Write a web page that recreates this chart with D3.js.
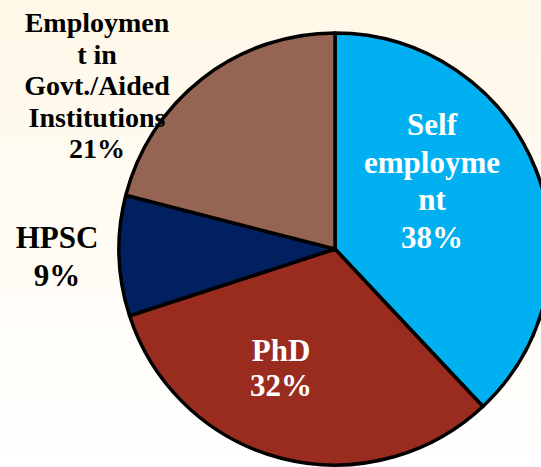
<!DOCTYPE html>
<html>
<head>
<meta charset="utf-8">
<script src="https://cdn.jsdelivr.net/npm/d3@7"></script>
<style>
  html, body { margin: 0; padding: 0; }
  svg { display: block; }
</style>
</head>
<body>
<svg id="chart" width="541" height="467"></svg>
<script>
// data
let categories = ["Self employment", "PhD", "HPSC", "Employment in Govt./Aided Institutions"];
let values = [38, 32, 9, 21];
let labelLines = [
	["Self", "employme", "nt", "38%"],
	["PhD", "32%"],
	["HPSC", "9%"],
	["Employmen", "t in", "Govt./Aided", "Institutions", "21%"]
];
let colors = ["#00B0F0", "#9A2C1F", "#002060", "#956452"];
let textColors = ["#ffffff", "#ffffff", "#000000", "#000000"];

let W = 541, H = 467;
let cx = 335, cy = 249, r = 216;

// label placement (x, first baseline, line step, font size)
let labelPlace = [
	{ x: 432, y: 135, step: 37.5, size: 31 },
	{ x: 281, y: 361, step: 35, size: 31 },
	{ x: 57, y: 248, step: 38, size: 31 },
	{ x: 97, y: 32, step: 31.5, size: 28 }
];

let svg = d3.select("#chart");

let defs = svg.append("defs");
let grad = defs.append("linearGradient")
	.attr("id", "bg")
	.attr("x1", 0).attr("y1", 0)
	.attr("x2", 0).attr("y2", 1);
grad.append("stop").attr("offset", "0%").attr("stop-color", "#FFF8E8");
grad.append("stop").attr("offset", "100%").attr("stop-color", "#FFFFFF");

svg.append("rect")
	.attr("width", W)
	.attr("height", H)
	.attr("fill", "url(#bg)");

let pie = d3.pie().sort(null).value(d => d);
let arc = d3.arc().innerRadius(0).outerRadius(r);

let g = svg.append("g").attr("transform", "translate(" + cx + "," + cy + ")");

g.selectAll("path")
	.data(pie(values))
	.enter().append("path")
	.attr("d", arc)
	.attr("fill", (d, i) => colors[i])
	.attr("stroke", "#000")
	.attr("stroke-width", 3.5)
	.attr("stroke-linejoin", "round");

let labels = svg.selectAll(".lbl")
	.data(labelLines)
	.enter().append("text")
	.attr("class", "lbl")
	.attr("text-anchor", "middle")
	.style("font-family", "Liberation Serif")
	.style("font-weight", "bold")
	.style("font-size", (d, i) => labelPlace[i].size + "px")
	.attr("fill", (d, i) => textColors[i]);

labels.each(function(lines, i) {
	let p = labelPlace[i];
	d3.select(this).selectAll("tspan")
		.data(lines)
		.enter().append("tspan")
		.attr("x", p.x)
		.attr("y", (d, j) => p.y + j * p.step)
		.text(d => d);
});
</script>
</body>
</html>
